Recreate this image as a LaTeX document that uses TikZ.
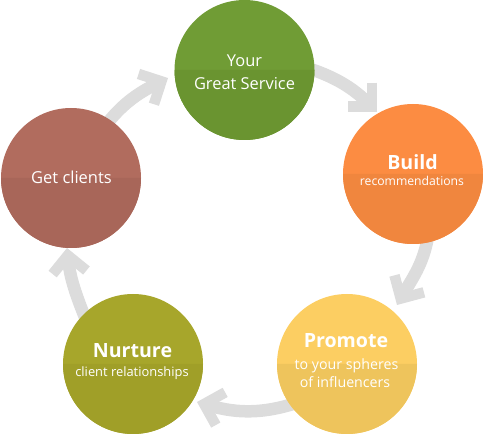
\documentclass[tikz,border=0pt]{standalone}
\usepackage{fontspec}
\setmainfont{Open Sans}
\usetikzlibrary{arrows.meta,calc}
\definecolor{gTop}{HTML}{709C35}
\definecolor{gBot}{HTML}{6A9430}
\definecolor{oTop}{HTML}{FC8C42}
\definecolor{oBot}{HTML}{F0863E}
\definecolor{yTop}{HTML}{FCCE62}
\definecolor{yBot}{HTML}{EEC45C}
\definecolor{lTop}{HTML}{A7A62B}
\definecolor{lBot}{HTML}{A09F28}
\definecolor{rTop}{HTML}{B16C5E}
\definecolor{rBot}{HTML}{A86659}
\definecolor{arrowgray}{HTML}{DCDCDC}
\pgfdeclarelayer{bg}
\pgfsetlayers{bg,main}
\begin{document}
\begin{tikzpicture}[x=1pt,y=1pt,
  stage/.style={circle, minimum size=140pt, inner sep=0pt, outer sep=0pt},
  flow/.style={draw=arrowgray, line width=12.5pt,
    -{Straight Barb[length=17pt,width=34pt,line width=10.5pt,sharp]}},
  ttl/.style={text=white, anchor=base, inner sep=0pt, font=\bfseries\fontsize{19.6}{22}\selectfont},
  lbl/.style={text=white, anchor=base, inner sep=0pt}]
\useasboundingbox (0,0) rectangle (483,434);
% stages
\node[stage, fill=gTop] (G) at (244.5,364) {};
\fill[gBot] (G.west) arc[start angle=180, end angle=360, radius=70pt] -- cycle;
\node[stage, fill=oTop] (B) at (413,260) {};
\fill[oBot] (B.west) arc[start angle=180, end angle=360, radius=70pt] -- cycle;
\node[stage, fill=yTop] (P) at (347,70) {};
\fill[yBot] (P.west) arc[start angle=180, end angle=360, radius=70pt] -- cycle;
\node[stage, fill=lTop] (N) at (133,70) {};
\fill[lBot] (N.west) arc[start angle=180, end angle=360, radius=70pt] -- cycle;
\node[stage, fill=rTop] (C) at (71,256) {};
\fill[rBot] (C.west) arc[start angle=180, end angle=360, radius=70pt] -- cycle;
% texts
\node[lbl, font=\fontsize{16.4}{20}\selectfont] (tG1) at (244.5,367.3) {Your};
\node[lbl, font=\fontsize{16.4}{20}\selectfont] (tG2) at (244.5,344.7) {Great Service};
\node[ttl] (tB1) at (412.5,264) {Build};
\node[lbl, font=\fontsize{12.2}{15}\selectfont] (tB2) at (412,248) {recommendations};
\node[ttl] (tP1) at (346,86) {Promote};
\node[lbl, font=\fontsize{14.2}{17}\selectfont] (tP2) at (346.5,64.7) {to your spheres};
\node[lbl, font=\fontsize{14.2}{17}\selectfont] (tP3) at (345,46) {of influencers};
\node[ttl] (tN1) at (132.5,76) {Nurture};
\node[lbl, font=\fontsize{12.9}{15}\selectfont] (tN2) at (132,57) {client relationships};
\node[lbl, font=\fontsize{16.5}{20}\selectfont] (tC1) at (71.5,250) {Get clients};
% connector ends
\coordinate (t1) at ($(C)+(29,45)$);
\coordinate (h1) at ($(G)+(-76.5,-8)$);
\coordinate (t2) at ($(G)+(43,8)$);
\coordinate (h2) at ($(B)+(-36,62)$);
\coordinate (t3) at ($(B)+(16,-56)$);
\coordinate (h3) at ($(P)+(50,59)$);
\coordinate (t4) at ($(P)+(-42,-36)$);
\coordinate (h4) at ($(N)+(64,-38)$);
\coordinate (t5) at ($(N)+(-43,34)$);
\coordinate (h5) at ($(C)+(-4,-70)$);
\begin{pgfonlayer}{bg}
\draw[flow] (t1) to[out=55,in=207] (h1);
\draw[flow] (t2) to[out=-15,in=135] (h2);
\draw[flow] (t3) to[out=-97,in=60] (h3);
\draw[flow] (t4) to[out=200,in=-16] (h4);
\draw[flow] (t5) to[out=112,in=-84] (h5);
\end{pgfonlayer}
\end{tikzpicture}
\end{document}
